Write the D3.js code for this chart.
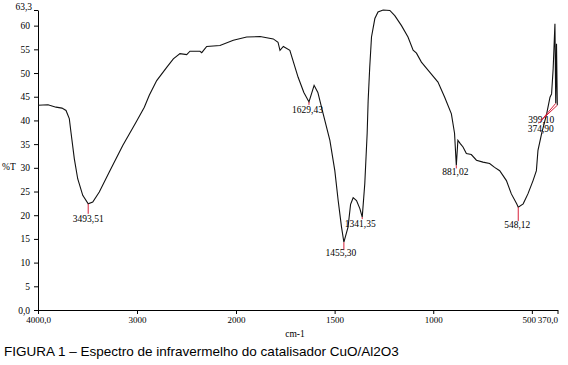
<!DOCTYPE html>
<html>
<head>
<meta charset="utf-8">
<script src="https://cdn.jsdelivr.net/npm/d3@7"></script>
<style>
  html, body { margin: 0; padding: 0; background: #fff; }
  svg { display: block; }
</style>
</head>
<body>
<script>
// ---------- DATA ----------
const wavenumbers = [4000, 3899, 3818, 3758, 3717, 3684, 3667, 3633, 3599, 3548, 3493, 3447, 3381, 3280, 3144, 3010, 2926, 2876, 2801, 2700, 2633, 2566, 2498, 2465, 2364, 2346, 2296, 2162, 2027,
  1946, 1878, 1811, 1787, 1777, 1760, 1727, 1685, 1656, 1630, 1604, 1585, 1558, 1524, 1499, 1482, 1465, 1453, 1432, 1419, 1406, 1389, 1372, 1360, 1347, 1335, 1330, 1322, 1313, 1296, 1280, 1254, 1220, 1195, 1161, 1128, 1102, 1085, 1060, 1018, 976, 942, 908, 892, 883, 875, 863, 849, 832, 807, 781, 748, 714, 689, 663, 629, 604, 577, 569, 544, 520, 494, 477, 469, 450, 425, 408, 400, 392, 383, 379, 375, 371];
const transmittance = [43.2, 43.3, 42.8, 42.6, 42.1, 40.4, 37.5, 31.9, 27.7, 24.2, 22.4, 22.8, 24.9, 29.1, 34.7, 39.6, 42.8, 45.3, 48.4, 51.2, 53.0, 54.1, 53.9, 54.6, 54.6, 54.3, 55.6, 55.8, 56.9,
  57.6, 57.7, 57.2, 56.5, 54.8, 55.6, 54.8, 49.1, 45.9, 43.9, 47.4, 45.9, 41.4, 35.8, 29.4, 23.1, 17.5, 14.3, 17.5, 22.3, 23.7, 23.1, 21.4, 19.6, 26.7, 37.3, 44.2, 51.2, 57.6, 61.5, 62.9, 63.3, 63.2, 62.1, 60.0, 57.6, 54.8, 54.2, 52.3, 50.2, 48.1, 44.9, 41.4, 37.3, 30.5, 35.8, 35.1, 34.4, 33.0, 32.8, 31.6, 31.2, 30.9, 30.1, 29.4, 27.3, 24.5, 22.4, 21.7, 22.4, 24.5, 27.3, 29.4, 33.7, 37.3, 41.4, 44.9, 45.6, 50.9, 60.4, 43.6, 56.2, 43.2];

const peakLabels = ["3493,51", "1629,43", "1455,30", "1341,35", "881,02", "548,12", "399,10", "374,90"];
const peakWavenumbers = [3493, 1630, 1453, 1360, 883, 569, 371, 379];
const peakTransmittance = [22.4, 43.9, 14.3, 19.6, 30.5, 21.7, 43.2, 43.6];

const xTickValues = [4000, 3000, 2000, 1500, 1000, 500, 370];
const xTickLabels = ["4000,0", "3000", "2000", "1500", "1000", "500", "370,0"];
const yTickValues = [0, 5, 10, 15, 20, 25, 30, 35, 40, 45, 50, 55, 60, 63.3];
const yTickLabels = ["0,0", "5", "10", "15", "20", "25", "30", "35", "40", "45", "50", "55", "60", "63,3"];

const yAxisTitle = "%T";
const xAxisTitle = "cm-1";
const caption = "FIGURA 1 \u2013 Espectro de infravermelho do catalisador CuO/Al2O3";

// ---------- LAYOUT (pixel offsets for peak annotations) ----------
const peakLayout = [
  { lx: 0,   ly: 10, tx: 0,    ty: 18 },
  { lx: 0,   ly: 3,  tx: -1.5, ty: 11 },
  { lx: 0,   ly: 8,  tx: -3,   ty: 14 },
  { lx: 0,   ly: 2,  tx: -2,   ty: 9.5 },
  { lx: 0,   ly: 3,  tx: -1,   ty: 9.5 },
  { lx: 0,   ly: 14, tx: -1,   ty: 21 },
  { lx: -16, ly: 15, tx: -16,  ty: 18 },
  { lx: -17, ly: 20, tx: -15,  ty: 28.5 }
];

// ---------- DRAW ----------
const W = 568, H = 365;
const svg = d3.select("body").append("svg").attr("width", W).attr("height", H);

const x = d3.scaleLinear().domain([4000, 2000, 370]).range([38, 236, 557.5]);
const y = d3.scaleLinear().domain([0, 63.3]).range([310, 10]);

const serif = "'Liberation Serif', 'Times New Roman', serif";
const fs = 9.5;

// x axis
const xAxis = d3.axisBottom(x)
  .tickValues(xTickValues)
  .tickFormat((d, i) => xTickLabels[i])
  .tickSize(4).tickSizeOuter(0).tickPadding(3);
const gx = svg.append("g").attr("transform", "translate(0,310)").call(xAxis);
gx.selectAll("text").attr("font-family", serif).attr("font-size", 9).attr("fill", "#000");
gx.selectAll("text").filter((d, i) => i === xTickValues.length - 1).attr("text-anchor", "end").attr("dx", 0);
gx.selectAll("text").filter((d, i) => i === xTickValues.length - 2).attr("dx", -3);
gx.selectAll("line, path").attr("stroke", "#000");

// y axis
const yAxis = d3.axisLeft(y)
  .tickValues(yTickValues)
  .tickFormat((d, i) => yTickLabels[i])
  .tickSize(4).tickSizeOuter(0).tickPadding(4);
const gy = svg.append("g").attr("transform", "translate(38,0)").call(yAxis);
gy.selectAll("text").attr("font-family", serif).attr("font-size", fs).attr("fill", "#000");
gy.selectAll("text").filter((d, i) => i === yTickValues.length - 1).attr("dy", "-0.05em").attr("dx", 2);
gy.selectAll("line, path").attr("stroke", "#000");

// axis titles
svg.append("text").attr("x", 2).attr("y", 169.5)
  .attr("font-family", serif).attr("font-size", fs).text(yAxisTitle);
svg.append("text").attr("x", 295).attr("y", 337).attr("text-anchor", "middle")
  .attr("font-family", serif).attr("font-size", fs).text(xAxisTitle);

// spectrum
const pts = wavenumbers.map((w, i) => [w, transmittance[i]]);
const line = d3.line().x(d => x(d[0])).y(d => y(d[1]));
svg.append("path").datum(pts).attr("d", line)
  .attr("fill", "none").attr("stroke", "#111").attr("stroke-width", 1.1);

// peak annotations
const gp = svg.append("g");
peakLabels.forEach((lab, i) => {
  const px = x(peakWavenumbers[i]), py = y(peakTransmittance[i]);
  const L = peakLayout[i];
  gp.append("line")
    .attr("x1", px).attr("y1", py)
    .attr("x2", px + L.lx).attr("y2", py + L.ly)
    .attr("stroke", "#d8203a").attr("stroke-width", 1);
  gp.append("text")
    .attr("x", px + L.tx).attr("y", py + L.ty)
    .attr("text-anchor", "middle")
    .attr("font-family", serif).attr("font-size", fs).attr("fill", "#000")
    .text(lab);
});

// caption
svg.append("text").attr("x", 4).attr("y", 356)
  .attr("font-family", "'Liberation Sans', Arial, sans-serif").attr("font-size", 13.5)
  .attr("fill", "#000").text(caption);
</script>
</body>
</html>
